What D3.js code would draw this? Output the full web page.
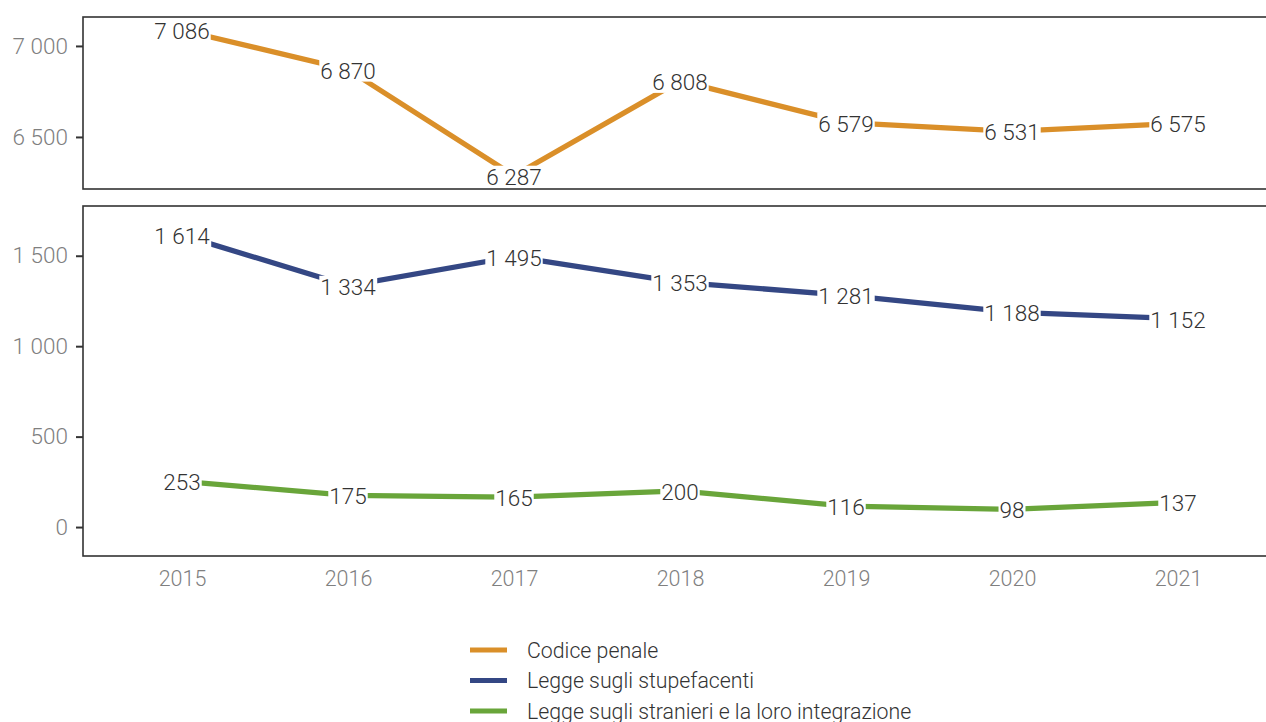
<!DOCTYPE html>
<html>
<head>
<meta charset="utf-8">
<script src="https://cdn.jsdelivr.net/npm/d3@7"></script>
<style>
  html, body { margin: 0; padding: 0; background: #fff; }
  svg { display: block; font-family: Roboto, "Noto Sans", sans-serif; font-weight: 300; }
</style>
</head>
<body>
<svg id="chart" width="1266" height="722"></svg>
<script>
// Years on the x axis
const years = [2015, 2016, 2017, 2018, 2019, 2020, 2021];

// Series values
const codicePenale = [7086, 6870, 6287, 6808, 6579, 6531, 6575];
const stupefacenti = [1614, 1334, 1495, 1353, 1281, 1188, 1152];
const stranieri = [253, 175, 165, 200, 116, 98, 137];

// Series names (legend order)
const seriesNames = [
  "Codice penale",
  "Legge sugli stupefacenti",
  "Legge sugli stranieri e la loro integrazione"
];
const seriesColors = ["#da8f29", "#344784", "#69a53a"];

// Tick values per panel
const topTicks = [6500, 7000];
const bottomTicks = [0, 500, 1000, 1500];

const locale = d3.formatLocale({ decimal: ",", thousands: "\u00a0", grouping: [3], currency: ["", ""] });
const fmt = locale.format(",d");

const svg = d3.select("#chart");

const panelLeft = 83, panelRight = 1277;
const x = d3.scalePoint().domain(years).range([182, 1178]);

const panels = [
  { top: 17, bottom: 189, domain: [6214, 7159], ticks: topTicks,
    series: [{ values: codicePenale, color: seriesColors[0] }] },
  { top: 206, bottom: 556, domain: [-160, 1775], ticks: bottomTicks,
    series: [{ values: stupefacenti, color: seriesColors[1] },
             { values: stranieri, color: seriesColors[2] }] }
];

panels.forEach(p => {
  const y = d3.scaleLinear().domain(p.domain).range([p.bottom, p.top]);
  const g = svg.append("g");

  // y axis ticks and labels
  const axis = d3.axisLeft(y).tickValues(p.ticks).tickFormat(fmt).tickSize(7).tickPadding(8);
  const ga = g.append("g").attr("transform", `translate(${panelLeft},0)`).call(axis);
  ga.select(".domain").remove();
  ga.selectAll(".tick line").attr("stroke", "#333").attr("stroke-width", 2);
  ga.selectAll(".tick text").attr("fill", "#7f7f7f").style("font-size", "22.5px")
    .style("font-family", "Roboto, sans-serif").style("font-weight", 300);

  const line = d3.line().x((d, i) => x(years[i])).y(d => y(d));

  p.series.forEach(s => {
    g.append("path").datum(s.values)
      .attr("d", line)
      .attr("fill", "none")
      .attr("stroke", s.color)
      .attr("stroke-width", 5.3);
  });

  // value labels with white backing
  p.series.forEach(s => {
    const lg = g.append("g");
    s.values.forEach((v, i) => {
      const t = lg.append("text")
        .attr("x", x(years[i]))
        .attr("y", y(v) + 1)
        .attr("text-anchor", "middle")
        .attr("dominant-baseline", "central")
        .attr("fill", "#333")
        .style("font-size", "22.5px")
        .style("font-weight", 300)
        .text(fmt(v));
      const bb = t.node().getBBox();
      lg.insert("rect", () => t.node())
        .attr("x", bb.x - 1).attr("y", bb.y + 2)
        .attr("width", bb.width + 2).attr("height", bb.height - 4)
        .attr("fill", "#fff");
    });
  });

  // panel border
  g.append("rect")
    .attr("x", panelLeft).attr("y", p.top)
    .attr("width", panelRight - panelLeft).attr("height", p.bottom - p.top)
    .attr("fill", "none").attr("stroke", "#333").attr("stroke-width", 1.6);
});

// x axis below bottom panel
const xa = svg.append("g").attr("transform", `translate(0,556)`)
  .call(d3.axisBottom(x).tickSize(0).tickPadding(15).tickFormat(d3.format("d")));
xa.select(".domain").remove();
xa.selectAll("text").attr("fill", "#7f7f7f").style("font-size", "21.5px")
  .style("font-family", "Roboto, sans-serif").style("font-weight", 300);

// legend
const legend = svg.append("g");
seriesNames.forEach((name, i) => {
  const cy = 650 + i * 30.5;
  legend.append("line")
    .attr("x1", 470).attr("x2", 507).attr("y1", cy).attr("y2", cy)
    .attr("stroke", seriesColors[i]).attr("stroke-width", 5);
  legend.append("text")
    .attr("x", 527).attr("y", cy)
    .attr("dominant-baseline", "central")
    .attr("fill", "#333")
    .style("font-size", "21.3px")
    .text(name);
});
</script>
</body>
</html>
